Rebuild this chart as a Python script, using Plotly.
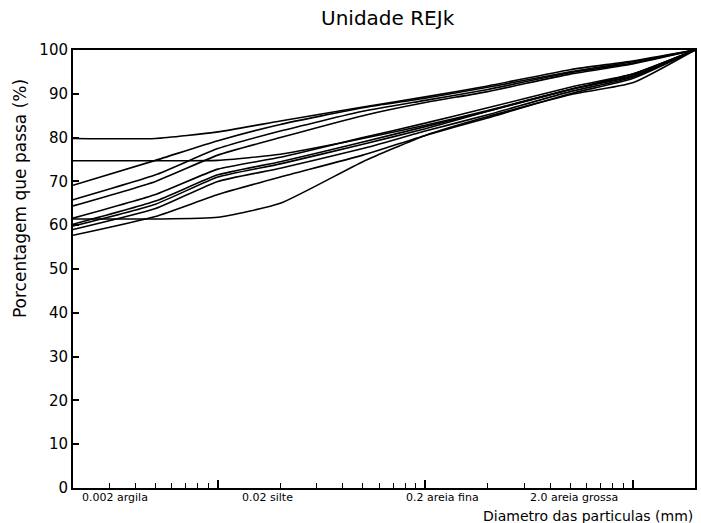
import plotly.graph_objects as go

# particle diameters (mm) at which curves are sampled
diam = [0.002, 0.005, 0.01, 0.02, 0.05, 0.1, 0.2, 0.5, 1.0, 2.0]

# percentage passing for each sample
s1 = [79.8, 79.8, 81.3, 83.8, 87.0, 89.3, 91.8, 95.5, 97.5, 100]
s2 = [74.7, 74.7, 74.8, 76.2, 79.8, 82.8, 86.2, 91.0, 94.2, 100]
s3 = [69.1, 74.8, 79.3, 83.0, 86.8, 89.0, 91.5, 95.0, 97.3, 100]
s4 = [65.8, 71.5, 77.5, 81.5, 86.0, 88.5, 91.0, 94.8, 97.0, 100]
s5 = [64.4, 70.0, 76.0, 80.0, 85.0, 88.0, 90.5, 94.5, 96.8, 100]
s6 = [61.6, 67.0, 72.8, 75.5, 80.0, 83.3, 86.8, 91.5, 94.5, 100]
s7 = [60.2, 65.5, 71.5, 74.5, 79.0, 82.5, 86.0, 91.0, 94.5, 100]
s8 = [59.8, 64.8, 71.0, 74.0, 78.5, 82.0, 86.0, 91.0, 94.0, 100]
s9 = [59.0, 63.8, 70.0, 73.0, 77.5, 81.5, 85.2, 90.5, 93.8, 100]
s10 = [57.7, 62.0, 67.0, 71.0, 76.0, 80.5, 84.5, 90.0, 93.5, 100]
s11 = [61.4, 61.4, 61.8, 65.0, 74.5, 80.5, 84.8, 89.8, 92.5, 100]
series = [s1, s2, s3, s4, s5, s6, s7, s8, s9, s10, s11]

y_ticks = [0, 10, 20, 30, 40, 50, 60, 70, 80, 90, 100]
major_x = [0.01, 0.1, 1.0]
minor_x = [m * d for d in [0.001, 0.01, 0.1, 1.0] for m in range(2, 10)]
class_labels = ["0.002 argila", "0.02 silte", "0.2 areia fina", "2.0 areia grossa"]
class_pos = [0.011, 0.268, 0.532, 0.732]

font_name = "DejaVu Sans"

fig = go.Figure()
for s in series:
    fig.add_trace(go.Scatter(x=diam, y=s, mode="lines",
                             line=dict(color="black", width=1.6, shape="spline", smoothing=0.5),
                             showlegend=False, hoverinfo="skip"))

fig.update_layout(
    width=701, height=523,
    margin=dict(l=73, r=4, t=50, b=35),
    paper_bgcolor="white", plot_bgcolor="white",
    title=dict(text="Unidade REJk", x=0.553, y=0.966, xanchor="center", yanchor="middle",
               font=dict(family=font_name, size=20, color="black")),
    font=dict(family=font_name, color="black"),
)
fig.update_xaxes(
    type="log", range=[-2.69897, 0.30103],
    showline=True, linecolor="black", linewidth=2, mirror=True,
    showgrid=False, zeroline=False,
    tickvals=major_x, ticks="inside", ticklen=8, tickwidth=1.5, tickcolor="black",
    showticklabels=False,
    minor=dict(tickvals=minor_x, ticks="inside", ticklen=5, tickwidth=1.2, tickcolor="black", showgrid=False),
)
fig.update_yaxes(
    range=[0, 100],
    showline=True, linecolor="black", linewidth=2, mirror=True,
    showgrid=False, zeroline=False,
    tickvals=y_ticks, ticktext=[str(v) for v in y_ticks],
    ticks="inside", ticklen=6, tickwidth=1.5, tickcolor="black",
    tickfont=dict(family=font_name, size=15, color="black"),
)

for lab, px in zip(class_labels, class_pos):
    fig.add_annotation(text=lab, xref="paper", yref="paper", x=px, y=0, xanchor="left",
                       yanchor="top", yshift=-1, showarrow=False,
                       font=dict(family=font_name, size=11, color="black"))

fig.add_annotation(text="Diametro das particulas (mm)", xref="paper", yref="paper",
                   x=1.0, y=-0.064, xanchor="right", yanchor="middle", showarrow=False,
                   font=dict(family=font_name, size=14, color="black"))
fig.add_annotation(text="Porcentagem que passa (%)", xref="paper", yref="paper",
                   x=-0.085, y=0.66, xanchor="center", yanchor="middle", textangle=-90,
                   showarrow=False, font=dict(family=font_name, size=17, color="black"))

fig.write_html("out.html")
